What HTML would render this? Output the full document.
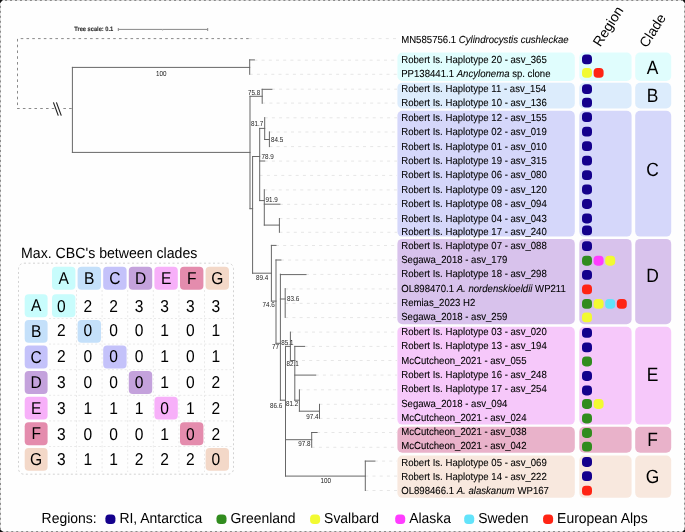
<!DOCTYPE html><html><head><meta charset="utf-8"><style>html,body{margin:0;padding:0;background:#fff;}svg{display:block;will-change:transform;filter:blur(0.3px);}</style></head><body><svg width="685" height="532" viewBox="0 0 685 532" font-family="Liberation Sans, sans-serif">
<rect x="0" y="0" width="685" height="532" fill="#fefefe"/>
<rect x="397.4" y="52.50" width="177.4" height="28.40" rx="5" fill="#e0fdfd"/>
<rect x="579.3" y="52.50" width="52.3" height="28.40" rx="5" fill="#e0fdfd"/>
<rect x="635.2" y="52.50" width="36.0" height="28.40" rx="5" fill="#e0fdfd"/>
<text transform="translate(652.60,74.15) scale(1,1.1)" font-size="17.4" text-rendering="geometricPrecision" fill="#000" text-anchor="middle">A</text>
<rect x="397.4" y="82.80" width="177.4" height="25.70" rx="5" fill="#dcecfc"/>
<rect x="579.3" y="82.80" width="52.3" height="25.70" rx="5" fill="#dcecfc"/>
<rect x="635.2" y="82.80" width="36.0" height="25.70" rx="5" fill="#dcecfc"/>
<text transform="translate(652.60,102.35) scale(1,1.1)" font-size="17.4" text-rendering="geometricPrecision" fill="#000" text-anchor="middle">B</text>
<rect x="397.4" y="110.70" width="177.4" height="125.90" rx="5" fill="#d5d7fa"/>
<rect x="579.3" y="110.70" width="52.3" height="125.90" rx="5" fill="#d5d7fa"/>
<rect x="635.2" y="110.70" width="36.0" height="125.90" rx="5" fill="#d5d7fa"/>
<text transform="translate(652.60,175.50) scale(1,1.1)" font-size="17.4" text-rendering="geometricPrecision" fill="#000" text-anchor="middle">C</text>
<rect x="397.4" y="238.90" width="177.4" height="85.30" rx="5" fill="#d8c2ec"/>
<rect x="579.3" y="238.90" width="52.3" height="85.30" rx="5" fill="#d8c2ec"/>
<rect x="635.2" y="238.90" width="36.0" height="85.30" rx="5" fill="#d8c2ec"/>
<text transform="translate(652.60,282.10) scale(1,1.1)" font-size="17.4" text-rendering="geometricPrecision" fill="#000" text-anchor="middle">D</text>
<rect x="397.4" y="326.80" width="177.4" height="97.80" rx="5" fill="#f6c8fa"/>
<rect x="579.3" y="326.80" width="52.3" height="97.80" rx="5" fill="#f6c8fa"/>
<rect x="635.2" y="326.80" width="36.0" height="97.80" rx="5" fill="#f6c8fa"/>
<text transform="translate(652.60,380.80) scale(1,1.1)" font-size="17.4" text-rendering="geometricPrecision" fill="#000" text-anchor="middle">E</text>
<rect x="397.4" y="426.70" width="177.4" height="26.00" rx="5" fill="#e9b2ca"/>
<rect x="579.3" y="426.70" width="52.3" height="26.00" rx="5" fill="#e9b2ca"/>
<rect x="635.2" y="426.70" width="36.0" height="26.00" rx="5" fill="#e9b2ca"/>
<text transform="translate(652.60,446.10) scale(1,1.1)" font-size="17.4" text-rendering="geometricPrecision" fill="#000" text-anchor="middle">F</text>
<rect x="397.4" y="455.50" width="177.4" height="42.35" rx="5" fill="#f8e8de"/>
<rect x="579.3" y="455.50" width="52.3" height="42.35" rx="5" fill="#f8e8de"/>
<rect x="635.2" y="455.50" width="36.0" height="42.35" rx="5" fill="#f8e8de"/>
<text transform="translate(652.60,483.20) scale(1,1.1)" font-size="17.4" text-rendering="geometricPrecision" fill="#000" text-anchor="middle">G</text>
<path d="M249.0 38.60H397 M254.4 60.20H397 M249.7 74.30H397 M271.9 89.20H397 M262.2 103.10H397 M264.7 117.80H397 M269.4 132.00H397 M269.4 146.60H397 M264.7 161.10H397 M259.7 175.40H397 M264.3 189.90H397 M279.9 204.35H397 M279.4 218.60H397 M279.4 232.30H397 M276.0 245.50H397 M280.9 260.05H397 M306.0 274.40H397 M285.2 288.90H397 M285.2 303.35H397 M285.2 317.60H397 M290.4 332.10H397 M304.6 346.40H397 M294.8 360.50H397 M315.7 375.10H397 M299.4 389.80H397 M319.5 404.30H397 M319.5 418.40H397 M317.1 432.50H397 M311.7 447.30H397 M374.9 461.10H397 M365.3 476.10H397 M365.3 490.50H397" stroke="#e6e6e6" stroke-width="1" stroke-dasharray="3 4.2" fill="none"/>
<path d="M72.4 67.4V152.4 M72.4 67.4H249.7 M72.4 152.4H250.0 M249.7 59.9V74.3 M249.7 59.9H254.4 M250.0 96.3V208.7 M250.0 96.3H262.2 M262.2 89.3V103.3 M262.2 89.3H271.9 M250.0 208.7H252.6 M252.6 156.5V273.2 M252.6 156.5H259.7 M259.7 128.4V200.6 M259.7 128.4H264.7 M264.7 117.6V139.5 M264.7 139.5H269.4 M269.4 131.9V146.6 M259.7 161.0H264.7 M259.7 200.6H264.3 M264.3 189.7V225.1 M264.3 204.2H279.9 M264.3 225.1H279.4 M279.4 218.5V232.3 M252.6 273.2H271.4 M271.4 245.4V301.1 M271.4 245.4H276.0 M271.4 301.1H276.0 M276.0 260.0V343.3 M276.0 260.0H280.9 M276.0 343.3H280.4 M280.4 274.2V400.2 M280.4 274.6H306.0 M280.4 299.0H285.2 M285.2 288.6V317.4 M280.4 400.2H285.5 M285.5 346.4V476.1 M285.5 346.4H290.4 M290.4 332.1V360.5 M290.4 360.5H294.8 M294.8 346.4V400.2 M294.8 346.4H304.6 M294.8 375.1H315.7 M294.8 400.2H299.4 M299.4 389.8V411.2 M299.4 411.2H319.5 M319.5 404.3V418.4 M285.5 439.7H311.7 M311.7 432.5V447.3 M311.7 432.5H317.1 M285.5 476.1H365.3 M365.3 461.1V490.5 M365.3 461.1H374.9" stroke="#676767" stroke-width="1" fill="none" stroke-linecap="square"/>
<path d="M20.7 38.6H249" stroke="#8a8a8a" stroke-width="1" stroke-dasharray="2.6 3.18" fill="none"/>
<path d="M17.5 38.9V108.5" stroke="#8a8a8a" stroke-width="1" stroke-dasharray="2.6 3.18" fill="none"/>
<path d="M17.1 108.5H72" stroke="#8a8a8a" stroke-width="1" stroke-dasharray="2.6 3.18" fill="none"/>
<rect x="54.6" y="105" width="8" height="7" fill="#fefefe"/>
<path d="M53.4 102.4L58.3 115.6M56.4 102.4L61.3 115.6" stroke="#222" stroke-width="1.15" fill="none"/>
<rect x="55" y="106.5" width="4" height="4" fill="#fefefe" opacity="0"/>
<text transform="translate(161.20,75.60) scale(1,1.15)" font-size="6.3" text-rendering="geometricPrecision" fill="#222" text-anchor="middle">100</text>
<text transform="translate(254.20,94.90) scale(1,1.15)" font-size="6.3" text-rendering="geometricPrecision" fill="#222" text-anchor="middle">75.8</text>
<text transform="translate(257.00,126.10) scale(1,1.15)" font-size="6.3" text-rendering="geometricPrecision" fill="#222" text-anchor="middle">81.7</text>
<text transform="translate(277.20,141.90) scale(1,1.15)" font-size="6.3" text-rendering="geometricPrecision" fill="#222" text-anchor="middle">84.5</text>
<text transform="translate(267.50,159.20) scale(1,1.15)" font-size="6.3" text-rendering="geometricPrecision" fill="#222" text-anchor="middle">78.9</text>
<text transform="translate(271.50,201.90) scale(1,1.15)" font-size="6.3" text-rendering="geometricPrecision" fill="#222" text-anchor="middle">91.9</text>
<text transform="translate(262.00,280.40) scale(1,1.15)" font-size="6.3" text-rendering="geometricPrecision" fill="#222" text-anchor="middle">89.4</text>
<text transform="translate(268.50,307.00) scale(1,1.15)" font-size="6.3" text-rendering="geometricPrecision" fill="#222" text-anchor="middle">74.6</text>
<text transform="translate(293.00,301.20) scale(1,1.15)" font-size="6.3" text-rendering="geometricPrecision" fill="#222" text-anchor="middle">83.6</text>
<text transform="translate(275.50,349.20) scale(1,1.15)" font-size="6.3" text-rendering="geometricPrecision" fill="#222" text-anchor="middle">77</text>
<text transform="translate(287.40,344.60) scale(1,1.15)" font-size="6.3" text-rendering="geometricPrecision" fill="#222" text-anchor="middle">85.1</text>
<text transform="translate(292.50,366.30) scale(1,1.15)" font-size="6.3" text-rendering="geometricPrecision" fill="#222" text-anchor="middle">82.1</text>
<text transform="translate(276.00,408.00) scale(1,1.15)" font-size="6.3" text-rendering="geometricPrecision" fill="#222" text-anchor="middle">86.6</text>
<text transform="translate(292.20,406.20) scale(1,1.15)" font-size="6.3" text-rendering="geometricPrecision" fill="#222" text-anchor="middle">81.2</text>
<text transform="translate(312.40,418.70) scale(1,1.15)" font-size="6.3" text-rendering="geometricPrecision" fill="#222" text-anchor="middle">97.4</text>
<text transform="translate(304.30,446.20) scale(1,1.15)" font-size="6.3" text-rendering="geometricPrecision" fill="#222" text-anchor="middle">97.8</text>
<text transform="translate(325.80,482.70) scale(1,1.15)" font-size="6.3" text-rendering="geometricPrecision" fill="#222" text-anchor="middle">100</text>
<text transform="translate(74.30,31.30) scale(1,1.1)" font-size="5.7" text-rendering="geometricPrecision" fill="#333" font-weight="bold" stroke="#333" stroke-width="0.12">Tree scale: 0.1</text>
<path d="M118.3 29.4H207.7M118.3 28V31M207.7 28V31" stroke="#888" stroke-width="1" fill="none"/><path d="M162.6 29.4V30.9" stroke="#bbb" stroke-width="0.8" fill="none"/>
<text transform="translate(401.20,43.20) scale(1,1.065)" font-size="9.6" text-rendering="geometricPrecision" fill="#000" stroke="#000" stroke-width="0.08">MN585756.1 <tspan font-style="italic">Cylindrocystis cushleckae</tspan></text>
<text transform="translate(401.20,63.30) scale(1,1.065)" font-size="9.6" text-rendering="geometricPrecision" fill="#000" stroke="#000" stroke-width="0.08">Robert Is. Haplotype 20 - asv_365</text>
<text transform="translate(401.20,77.40) scale(1,1.065)" font-size="9.6" text-rendering="geometricPrecision" fill="#000" stroke="#000" stroke-width="0.08">PP138441.1 <tspan font-style="italic">Ancylonema</tspan> sp. clone</text>
<text transform="translate(401.20,92.00) scale(1,1.065)" font-size="9.6" text-rendering="geometricPrecision" fill="#000" stroke="#000" stroke-width="0.08">Robert Is. Haplotype 11 - asv_154</text>
<text transform="translate(401.20,106.10) scale(1,1.065)" font-size="9.6" text-rendering="geometricPrecision" fill="#000" stroke="#000" stroke-width="0.08">Robert Is. Haplotype 10 - asv_136</text>
<text transform="translate(401.20,120.70) scale(1,1.065)" font-size="9.6" text-rendering="geometricPrecision" fill="#000" stroke="#000" stroke-width="0.08">Robert Is. Haplotype 12 - asv_155</text>
<text transform="translate(401.20,135.00) scale(1,1.065)" font-size="9.6" text-rendering="geometricPrecision" fill="#000" stroke="#000" stroke-width="0.08">Robert Is. Haplotype 02 - asv_019</text>
<text transform="translate(401.20,149.50) scale(1,1.065)" font-size="9.6" text-rendering="geometricPrecision" fill="#000" stroke="#000" stroke-width="0.08">Robert Is. Haplotype 01 - asv_010</text>
<text transform="translate(401.20,163.60) scale(1,1.065)" font-size="9.6" text-rendering="geometricPrecision" fill="#000" stroke="#000" stroke-width="0.08">Robert Is. Haplotype 19 - asv_315</text>
<text transform="translate(401.20,178.40) scale(1,1.065)" font-size="9.6" text-rendering="geometricPrecision" fill="#000" stroke="#000" stroke-width="0.08">Robert Is. Haplotype 06 - asv_080</text>
<text transform="translate(401.20,192.80) scale(1,1.065)" font-size="9.6" text-rendering="geometricPrecision" fill="#000" stroke="#000" stroke-width="0.08">Robert Is. Haplotype 09 - asv_120</text>
<text transform="translate(401.20,207.10) scale(1,1.065)" font-size="9.6" text-rendering="geometricPrecision" fill="#000" stroke="#000" stroke-width="0.08">Robert Is. Haplotype 08 - asv_094</text>
<text transform="translate(401.20,221.50) scale(1,1.065)" font-size="9.6" text-rendering="geometricPrecision" fill="#000" stroke="#000" stroke-width="0.08">Robert Is. Haplotype 04 - asv_043</text>
<text transform="translate(401.20,235.00) scale(1,1.065)" font-size="9.6" text-rendering="geometricPrecision" fill="#000" stroke="#000" stroke-width="0.08">Robert Is. Haplotype 17 - asv_240</text>
<text transform="translate(401.20,248.50) scale(1,1.065)" font-size="9.6" text-rendering="geometricPrecision" fill="#000" stroke="#000" stroke-width="0.08">Robert Is. Haplotype 07 - asv_088</text>
<text transform="translate(401.20,262.60) scale(1,1.065)" font-size="9.6" text-rendering="geometricPrecision" fill="#000" stroke="#000" stroke-width="0.08">Segawa_2018 - asv_179</text>
<text transform="translate(401.20,277.00) scale(1,1.065)" font-size="9.6" text-rendering="geometricPrecision" fill="#000" stroke="#000" stroke-width="0.08">Robert Is. Haplotype 18 - asv_298</text>
<text transform="translate(401.20,291.90) scale(1,1.065)" font-size="9.6" text-rendering="geometricPrecision" fill="#000" stroke="#000" stroke-width="0.08">OL898470.1 <tspan font-style="italic">A. nordenskioeldii</tspan> WP211</text>
<text transform="translate(401.20,306.20) scale(1,1.065)" font-size="9.6" text-rendering="geometricPrecision" fill="#000" stroke="#000" stroke-width="0.08">Remias_2023 H2</text>
<text transform="translate(401.20,320.40) scale(1,1.065)" font-size="9.6" text-rendering="geometricPrecision" fill="#000" stroke="#000" stroke-width="0.08">Segawa_2018 - asv_259</text>
<text transform="translate(401.20,334.90) scale(1,1.065)" font-size="9.6" text-rendering="geometricPrecision" fill="#000" stroke="#000" stroke-width="0.08">Robert Is. Haplotype 03 - asv_020</text>
<text transform="translate(401.20,349.20) scale(1,1.065)" font-size="9.6" text-rendering="geometricPrecision" fill="#000" stroke="#000" stroke-width="0.08">Robert Is. Haplotype 13 - asv_194</text>
<text transform="translate(401.20,363.60) scale(1,1.065)" font-size="9.6" text-rendering="geometricPrecision" fill="#000" stroke="#000" stroke-width="0.08">McCutcheon_2021 - asv_055</text>
<text transform="translate(401.20,378.00) scale(1,1.065)" font-size="9.6" text-rendering="geometricPrecision" fill="#000" stroke="#000" stroke-width="0.08">Robert Is. Haplotype 16 - asv_248</text>
<text transform="translate(401.20,392.40) scale(1,1.065)" font-size="9.6" text-rendering="geometricPrecision" fill="#000" stroke="#000" stroke-width="0.08">Robert Is. Haplotype 17 - asv_254</text>
<text transform="translate(401.20,406.50) scale(1,1.065)" font-size="9.6" text-rendering="geometricPrecision" fill="#000" stroke="#000" stroke-width="0.08">Segawa_2018 - asv_094</text>
<text transform="translate(401.20,420.70) scale(1,1.065)" font-size="9.6" text-rendering="geometricPrecision" fill="#000" stroke="#000" stroke-width="0.08">McCutcheon_2021 - asv_024</text>
<text transform="translate(401.20,435.10) scale(1,1.065)" font-size="9.6" text-rendering="geometricPrecision" fill="#000" stroke="#000" stroke-width="0.08">McCutcheon_2021 - asv_038</text>
<text transform="translate(401.20,449.30) scale(1,1.065)" font-size="9.6" text-rendering="geometricPrecision" fill="#000" stroke="#000" stroke-width="0.08">McCutcheon_2021 - asv_042</text>
<text transform="translate(401.20,465.50) scale(1,1.065)" font-size="9.6" text-rendering="geometricPrecision" fill="#000" stroke="#000" stroke-width="0.08">Robert Is. Haplotype 05 - asv_069</text>
<text transform="translate(401.20,479.80) scale(1,1.065)" font-size="9.6" text-rendering="geometricPrecision" fill="#000" stroke="#000" stroke-width="0.08">Robert Is. Haplotype 14 - asv_222</text>
<text transform="translate(401.20,493.80) scale(1,1.065)" font-size="9.6" text-rendering="geometricPrecision" fill="#000" stroke="#000" stroke-width="0.08">OL898466.1 <tspan font-style="italic">A. alaskanum</tspan> WP167</text>
<rect x="582.00" y="54.40" width="10" height="9.8" rx="3.8" fill="#14008c"/>
<rect x="582.00" y="67.90" width="10" height="9.8" rx="3.8" fill="#f2fa32"/>
<rect x="593.60" y="67.90" width="10" height="9.8" rx="3.8" fill="#ff2414"/>
<rect x="582.00" y="84.30" width="10" height="9.8" rx="3.8" fill="#14008c"/>
<rect x="582.00" y="97.80" width="10" height="9.8" rx="3.8" fill="#14008c"/>
<rect x="582.00" y="112.20" width="10" height="9.8" rx="3.8" fill="#14008c"/>
<rect x="582.00" y="126.70" width="10" height="9.8" rx="3.8" fill="#14008c"/>
<rect x="582.00" y="141.20" width="10" height="9.8" rx="3.8" fill="#14008c"/>
<rect x="582.00" y="155.70" width="10" height="9.8" rx="3.8" fill="#14008c"/>
<rect x="582.00" y="170.20" width="10" height="9.8" rx="3.8" fill="#14008c"/>
<rect x="582.00" y="184.60" width="10" height="9.8" rx="3.8" fill="#14008c"/>
<rect x="582.00" y="199.10" width="10" height="9.8" rx="3.8" fill="#14008c"/>
<rect x="582.00" y="213.60" width="10" height="9.8" rx="3.8" fill="#14008c"/>
<rect x="582.00" y="225.40" width="10" height="9.8" rx="3.8" fill="#14008c"/>
<rect x="582.00" y="241.20" width="10" height="9.8" rx="3.8" fill="#14008c"/>
<rect x="582.00" y="255.85" width="10" height="9.8" rx="3.8" fill="#318c1e"/>
<rect x="593.60" y="255.85" width="10" height="9.8" rx="3.8" fill="#ff3cff"/>
<rect x="605.20" y="255.85" width="10" height="9.8" rx="3.8" fill="#f2fa32"/>
<rect x="582.00" y="270.00" width="10" height="9.8" rx="3.8" fill="#14008c"/>
<rect x="582.00" y="284.40" width="10" height="9.8" rx="3.8" fill="#ff2414"/>
<rect x="582.00" y="299.00" width="10" height="9.8" rx="3.8" fill="#318c1e"/>
<rect x="593.60" y="299.00" width="10" height="9.8" rx="3.8" fill="#f2fa32"/>
<rect x="605.20" y="299.00" width="10" height="9.8" rx="3.8" fill="#62e3fa"/>
<rect x="616.80" y="299.00" width="10" height="9.8" rx="3.8" fill="#ff2414"/>
<rect x="582.00" y="312.50" width="10" height="9.8" rx="3.8" fill="#f2fa32"/>
<rect x="582.00" y="328.00" width="10" height="9.8" rx="3.8" fill="#14008c"/>
<rect x="582.00" y="342.50" width="10" height="9.8" rx="3.8" fill="#14008c"/>
<rect x="582.00" y="356.60" width="10" height="9.8" rx="3.8" fill="#318c1e"/>
<rect x="582.00" y="371.10" width="10" height="9.8" rx="3.8" fill="#14008c"/>
<rect x="582.00" y="385.60" width="10" height="9.8" rx="3.8" fill="#14008c"/>
<rect x="582.00" y="399.10" width="10" height="9.8" rx="3.8" fill="#318c1e"/>
<rect x="593.60" y="399.10" width="10" height="9.8" rx="3.8" fill="#f2fa32"/>
<rect x="582.00" y="413.60" width="10" height="9.8" rx="3.8" fill="#318c1e"/>
<rect x="582.00" y="428.10" width="10" height="9.8" rx="3.8" fill="#318c1e"/>
<rect x="582.00" y="441.70" width="10" height="9.8" rx="3.8" fill="#318c1e"/>
<rect x="582.00" y="457.10" width="10" height="9.8" rx="3.8" fill="#14008c"/>
<rect x="582.00" y="471.30" width="10" height="9.8" rx="3.8" fill="#14008c"/>
<rect x="582.00" y="485.70" width="10" height="9.8" rx="3.8" fill="#ff2414"/>
<text transform="translate(600.2,47.6) rotate(-57.5)" font-size="14" text-rendering="geometricPrecision" fill="#000">Region</text>
<text transform="translate(646.8,48.5) rotate(-57.5)" font-size="14" text-rendering="geometricPrecision" fill="#000">Clade</text>
<text transform="translate(21.00,258.20) scale(1,1.05)" font-size="14.15" text-rendering="geometricPrecision" fill="#000">Max. CBC's between clades</text>
<rect x="18.5" y="263.2" width="215" height="211" rx="5.5" fill="none" stroke="#d2d2d2" stroke-width="1" stroke-dasharray="2 2.5"/>
<path d="M76.5 290V472 M49 318.5H232 M102.1 290V472 M49 344.1H232 M127.7 290V472 M49 369.7H232 M153.3 290V472 M49 395.3H232 M178.9 290V472 M49 420.9H232 M204.5 290V472 M49 446.5H232" stroke="#e9e9e9" stroke-width="1" stroke-dasharray="2 2.2" fill="none"/>
<rect x="52.00" y="266.8" width="23.4" height="22.9" rx="4" fill="#c8fcfc"/>
<text transform="translate(63.70,283.80) scale(1,1.1)" font-size="15.6" text-rendering="geometricPrecision" fill="#000" text-anchor="middle">A</text>
<rect x="24.7" y="294.30" width="22.9" height="22.9" rx="4" fill="#c8fcfc"/>
<text transform="translate(36.15,311.30) scale(1,1.1)" font-size="15.6" text-rendering="geometricPrecision" fill="#000" text-anchor="middle">A</text>
<rect x="52.00" y="294.30" width="23.4" height="22.9" rx="4" fill="#c8fcfc"/>
<text transform="translate(61.30,311.60) scale(1,1.1)" font-size="15.6" text-rendering="geometricPrecision" fill="#000" text-anchor="middle">0</text>
<text transform="translate(87.90,311.60) scale(1,1.1)" font-size="15.6" text-rendering="geometricPrecision" fill="#000" text-anchor="middle">2</text>
<text transform="translate(113.50,311.60) scale(1,1.1)" font-size="15.6" text-rendering="geometricPrecision" fill="#000" text-anchor="middle">2</text>
<text transform="translate(139.10,311.60) scale(1,1.1)" font-size="15.6" text-rendering="geometricPrecision" fill="#000" text-anchor="middle">3</text>
<text transform="translate(164.70,311.60) scale(1,1.1)" font-size="15.6" text-rendering="geometricPrecision" fill="#000" text-anchor="middle">3</text>
<text transform="translate(190.30,311.60) scale(1,1.1)" font-size="15.6" text-rendering="geometricPrecision" fill="#000" text-anchor="middle">3</text>
<text transform="translate(215.90,311.60) scale(1,1.1)" font-size="15.6" text-rendering="geometricPrecision" fill="#000" text-anchor="middle">3</text>
<rect x="77.60" y="266.8" width="23.4" height="22.9" rx="4" fill="#c4e0fa"/>
<text transform="translate(89.30,283.80) scale(1,1.1)" font-size="15.6" text-rendering="geometricPrecision" fill="#000" text-anchor="middle">B</text>
<rect x="24.7" y="319.90" width="22.9" height="22.9" rx="4" fill="#c4e0fa"/>
<text transform="translate(36.15,336.90) scale(1,1.1)" font-size="15.6" text-rendering="geometricPrecision" fill="#000" text-anchor="middle">B</text>
<rect x="77.60" y="319.90" width="23.4" height="22.9" rx="4" fill="#c4e0fa"/>
<text transform="translate(61.30,335.80) scale(1,1.1)" font-size="15.6" text-rendering="geometricPrecision" fill="#000" text-anchor="middle">2</text>
<text transform="translate(87.90,335.80) scale(1,1.1)" font-size="15.6" text-rendering="geometricPrecision" fill="#000" text-anchor="middle">0</text>
<text transform="translate(113.50,335.80) scale(1,1.1)" font-size="15.6" text-rendering="geometricPrecision" fill="#000" text-anchor="middle">0</text>
<text transform="translate(139.10,335.80) scale(1,1.1)" font-size="15.6" text-rendering="geometricPrecision" fill="#000" text-anchor="middle">0</text>
<text transform="translate(164.70,335.80) scale(1,1.1)" font-size="15.6" text-rendering="geometricPrecision" fill="#000" text-anchor="middle">1</text>
<text transform="translate(190.30,335.80) scale(1,1.1)" font-size="15.6" text-rendering="geometricPrecision" fill="#000" text-anchor="middle">0</text>
<text transform="translate(215.90,335.80) scale(1,1.1)" font-size="15.6" text-rendering="geometricPrecision" fill="#000" text-anchor="middle">1</text>
<rect x="103.20" y="266.8" width="23.4" height="22.9" rx="4" fill="#c4c2fa"/>
<text transform="translate(114.90,283.80) scale(1,1.1)" font-size="15.6" text-rendering="geometricPrecision" fill="#000" text-anchor="middle">C</text>
<rect x="24.7" y="345.50" width="22.9" height="22.9" rx="4" fill="#c4c2fa"/>
<text transform="translate(36.15,362.50) scale(1,1.1)" font-size="15.6" text-rendering="geometricPrecision" fill="#000" text-anchor="middle">C</text>
<rect x="103.20" y="345.50" width="23.4" height="22.9" rx="4" fill="#c4c2fa"/>
<text transform="translate(61.30,362.00) scale(1,1.1)" font-size="15.6" text-rendering="geometricPrecision" fill="#000" text-anchor="middle">2</text>
<text transform="translate(87.90,362.00) scale(1,1.1)" font-size="15.6" text-rendering="geometricPrecision" fill="#000" text-anchor="middle">0</text>
<text transform="translate(113.50,362.00) scale(1,1.1)" font-size="15.6" text-rendering="geometricPrecision" fill="#000" text-anchor="middle">0</text>
<text transform="translate(139.10,362.00) scale(1,1.1)" font-size="15.6" text-rendering="geometricPrecision" fill="#000" text-anchor="middle">0</text>
<text transform="translate(164.70,362.00) scale(1,1.1)" font-size="15.6" text-rendering="geometricPrecision" fill="#000" text-anchor="middle">1</text>
<text transform="translate(190.30,362.00) scale(1,1.1)" font-size="15.6" text-rendering="geometricPrecision" fill="#000" text-anchor="middle">0</text>
<text transform="translate(215.90,362.00) scale(1,1.1)" font-size="15.6" text-rendering="geometricPrecision" fill="#000" text-anchor="middle">1</text>
<rect x="128.80" y="266.8" width="23.4" height="22.9" rx="4" fill="#c4a2dc"/>
<text transform="translate(140.50,283.80) scale(1,1.1)" font-size="15.6" text-rendering="geometricPrecision" fill="#000" text-anchor="middle">D</text>
<rect x="24.7" y="371.10" width="22.9" height="22.9" rx="4" fill="#c4a2dc"/>
<text transform="translate(36.15,388.10) scale(1,1.1)" font-size="15.6" text-rendering="geometricPrecision" fill="#000" text-anchor="middle">D</text>
<rect x="128.80" y="371.10" width="23.4" height="22.9" rx="4" fill="#c4a2dc"/>
<text transform="translate(61.30,388.40) scale(1,1.1)" font-size="15.6" text-rendering="geometricPrecision" fill="#000" text-anchor="middle">3</text>
<text transform="translate(87.90,388.40) scale(1,1.1)" font-size="15.6" text-rendering="geometricPrecision" fill="#000" text-anchor="middle">0</text>
<text transform="translate(113.50,388.40) scale(1,1.1)" font-size="15.6" text-rendering="geometricPrecision" fill="#000" text-anchor="middle">0</text>
<text transform="translate(139.10,388.40) scale(1,1.1)" font-size="15.6" text-rendering="geometricPrecision" fill="#000" text-anchor="middle">0</text>
<text transform="translate(164.70,388.40) scale(1,1.1)" font-size="15.6" text-rendering="geometricPrecision" fill="#000" text-anchor="middle">1</text>
<text transform="translate(190.30,388.40) scale(1,1.1)" font-size="15.6" text-rendering="geometricPrecision" fill="#000" text-anchor="middle">0</text>
<text transform="translate(215.90,388.40) scale(1,1.1)" font-size="15.6" text-rendering="geometricPrecision" fill="#000" text-anchor="middle">2</text>
<rect x="154.40" y="266.8" width="23.4" height="22.9" rx="4" fill="#f7b0f9"/>
<text transform="translate(166.10,283.80) scale(1,1.1)" font-size="15.6" text-rendering="geometricPrecision" fill="#000" text-anchor="middle">E</text>
<rect x="24.7" y="396.70" width="22.9" height="22.9" rx="4" fill="#f7b0f9"/>
<text transform="translate(36.15,413.70) scale(1,1.1)" font-size="15.6" text-rendering="geometricPrecision" fill="#000" text-anchor="middle">E</text>
<rect x="154.40" y="396.70" width="23.4" height="22.9" rx="4" fill="#f7b0f9"/>
<text transform="translate(61.30,413.60) scale(1,1.1)" font-size="15.6" text-rendering="geometricPrecision" fill="#000" text-anchor="middle">3</text>
<text transform="translate(87.90,413.60) scale(1,1.1)" font-size="15.6" text-rendering="geometricPrecision" fill="#000" text-anchor="middle">1</text>
<text transform="translate(113.50,413.60) scale(1,1.1)" font-size="15.6" text-rendering="geometricPrecision" fill="#000" text-anchor="middle">1</text>
<text transform="translate(139.10,413.60) scale(1,1.1)" font-size="15.6" text-rendering="geometricPrecision" fill="#000" text-anchor="middle">1</text>
<text transform="translate(164.70,413.60) scale(1,1.1)" font-size="15.6" text-rendering="geometricPrecision" fill="#000" text-anchor="middle">0</text>
<text transform="translate(190.30,413.60) scale(1,1.1)" font-size="15.6" text-rendering="geometricPrecision" fill="#000" text-anchor="middle">1</text>
<text transform="translate(215.90,413.60) scale(1,1.1)" font-size="15.6" text-rendering="geometricPrecision" fill="#000" text-anchor="middle">2</text>
<rect x="180.00" y="266.8" width="23.4" height="22.9" rx="4" fill="#e48cad"/>
<text transform="translate(191.70,283.80) scale(1,1.1)" font-size="15.6" text-rendering="geometricPrecision" fill="#000" text-anchor="middle">F</text>
<rect x="24.7" y="422.30" width="22.9" height="22.9" rx="4" fill="#e48cad"/>
<text transform="translate(36.15,439.30) scale(1,1.1)" font-size="15.6" text-rendering="geometricPrecision" fill="#000" text-anchor="middle">F</text>
<rect x="180.00" y="422.30" width="23.4" height="22.9" rx="4" fill="#e48cad"/>
<text transform="translate(61.30,439.60) scale(1,1.1)" font-size="15.6" text-rendering="geometricPrecision" fill="#000" text-anchor="middle">3</text>
<text transform="translate(87.90,439.60) scale(1,1.1)" font-size="15.6" text-rendering="geometricPrecision" fill="#000" text-anchor="middle">0</text>
<text transform="translate(113.50,439.60) scale(1,1.1)" font-size="15.6" text-rendering="geometricPrecision" fill="#000" text-anchor="middle">0</text>
<text transform="translate(139.10,439.60) scale(1,1.1)" font-size="15.6" text-rendering="geometricPrecision" fill="#000" text-anchor="middle">0</text>
<text transform="translate(164.70,439.60) scale(1,1.1)" font-size="15.6" text-rendering="geometricPrecision" fill="#000" text-anchor="middle">1</text>
<text transform="translate(190.30,439.60) scale(1,1.1)" font-size="15.6" text-rendering="geometricPrecision" fill="#000" text-anchor="middle">0</text>
<text transform="translate(215.90,439.60) scale(1,1.1)" font-size="15.6" text-rendering="geometricPrecision" fill="#000" text-anchor="middle">2</text>
<rect x="205.60" y="266.8" width="23.4" height="22.9" rx="4" fill="#f3d8c8"/>
<text transform="translate(217.30,283.80) scale(1,1.1)" font-size="15.6" text-rendering="geometricPrecision" fill="#000" text-anchor="middle">G</text>
<rect x="24.7" y="447.90" width="22.9" height="22.9" rx="4" fill="#f3d8c8"/>
<text transform="translate(36.15,464.90) scale(1,1.1)" font-size="15.6" text-rendering="geometricPrecision" fill="#000" text-anchor="middle">G</text>
<rect x="205.60" y="447.90" width="23.4" height="22.9" rx="4" fill="#f3d8c8"/>
<text transform="translate(61.30,465.20) scale(1,1.1)" font-size="15.6" text-rendering="geometricPrecision" fill="#000" text-anchor="middle">3</text>
<text transform="translate(87.90,465.20) scale(1,1.1)" font-size="15.6" text-rendering="geometricPrecision" fill="#000" text-anchor="middle">1</text>
<text transform="translate(113.50,465.20) scale(1,1.1)" font-size="15.6" text-rendering="geometricPrecision" fill="#000" text-anchor="middle">1</text>
<text transform="translate(139.10,465.20) scale(1,1.1)" font-size="15.6" text-rendering="geometricPrecision" fill="#000" text-anchor="middle">2</text>
<text transform="translate(164.70,465.20) scale(1,1.1)" font-size="15.6" text-rendering="geometricPrecision" fill="#000" text-anchor="middle">2</text>
<text transform="translate(190.30,465.20) scale(1,1.1)" font-size="15.6" text-rendering="geometricPrecision" fill="#000" text-anchor="middle">2</text>
<text transform="translate(215.90,465.20) scale(1,1.1)" font-size="15.6" text-rendering="geometricPrecision" fill="#000" text-anchor="middle">0</text>
<text transform="translate(41.60,522.90) scale(1,1.04)" font-size="13.95" text-rendering="geometricPrecision" fill="#000">Regions:</text>
<rect x="105.4" y="514.4" width="10" height="9.6" rx="3.8" fill="#14008c"/>
<text transform="translate(119.40,522.90) scale(1,1.04)" font-size="13.95" text-rendering="geometricPrecision" fill="#000">RI, Antarctica</text>
<rect x="216.5" y="514.4" width="10" height="9.6" rx="3.8" fill="#318c1e"/>
<text transform="translate(230.50,522.90) scale(1,1.04)" font-size="13.95" text-rendering="geometricPrecision" fill="#000">Greenland</text>
<rect x="310.1" y="514.4" width="10" height="9.6" rx="3.8" fill="#f2fa32"/>
<text transform="translate(324.10,522.90) scale(1,1.04)" font-size="13.95" text-rendering="geometricPrecision" fill="#000">Svalbard</text>
<rect x="395.2" y="514.4" width="10" height="9.6" rx="3.8" fill="#ff3cff"/>
<text transform="translate(409.20,522.90) scale(1,1.04)" font-size="13.95" text-rendering="geometricPrecision" fill="#000">Alaska</text>
<rect x="464.2" y="514.4" width="10" height="9.6" rx="3.8" fill="#62e3fa"/>
<text transform="translate(478.20,522.90) scale(1,1.04)" font-size="13.95" text-rendering="geometricPrecision" fill="#000">Sweden</text>
<rect x="543.1" y="514.4" width="10" height="9.6" rx="3.8" fill="#ff2414"/>
<text transform="translate(557.10,522.90) scale(1,1.04)" font-size="13.95" text-rendering="geometricPrecision" fill="#000">European Alps</text>
<path d="M3 0.5H682 M3 531.5H682 M0.5 3V529 M684.5 3V529" stroke="#e4e4e4" stroke-width="1" fill="none"/>
<path d="M0.1 0.5H682 M1.3 531.5H682 M0.5 0.9V529 M684.5 0.7V529" stroke="#8a8a8a" stroke-width="1" stroke-dasharray="2 2.97" fill="none"/>
<path d="M0 0H3L0 3Z M685 0H682L685 3Z M0 532H3L0 529Z M685 532H682L685 529Z" fill="#111"/>
</svg></body></html>
